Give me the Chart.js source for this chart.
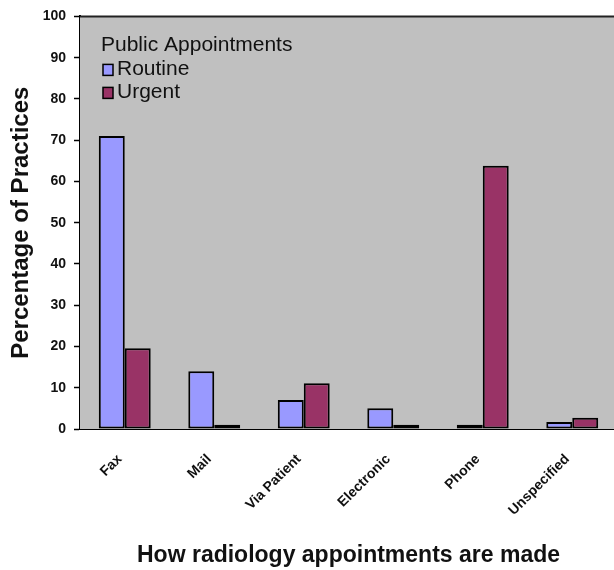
<!DOCTYPE html>
<html>
<head>
<meta charset="utf-8">
<script src="https://cdn.jsdelivr.net/npm/chart.js@4"></script>
<style>
  html, body { margin: 0; padding: 0; background: #fff; overflow: hidden; }
  #wrap { width: 614px; height: 570px; overflow: hidden; position: relative; }
  #c { position: absolute; left: 0; top: 0; }
</style>
</head>
<body>
<div id="wrap"><canvas id="c" width="620" height="570"></canvas></div>
<script>
const categories = ["Fax", "Mail", "Via Patient", "Electronic", "Phone", "Unspecified"];
const routineValues = [71, 14, 7, 5, 1, 1.7];
const urgentValues = [19.6, 1, 11.1, 1, 63.8, 2.7];
const yTicks = [0, 10, 20, 30, 40, 50, 60, 70, 80, 90, 100];
const legendTitle = "Public Appointments";
const seriesNames = ["Routine", "Urgent"];
const xTitle = "How radiology appointments are made";
const yTitle = "Percentage of Practices";

const FONT = "'Liberation Sans', Arial, sans-serif";

const plotDeco = {
  id: 'plotDeco',
  beforeDatasetsDraw(chart) {
    const a = chart.chartArea, ctx = chart.ctx;
    ctx.save();
    ctx.fillStyle = '#C0C0C0';
    ctx.fillRect(a.left, a.top, a.right - a.left, a.bottom - a.top);
    ctx.restore();
  },
  afterDraw(chart) {
    const a = chart.chartArea, ctx = chart.ctx;
    ctx.save();
    ctx.strokeStyle = '#222';
    ctx.lineWidth = 2;
    ctx.beginPath();
    ctx.moveTo(a.left, a.top);
    ctx.lineTo(a.right, a.top);
    ctx.stroke();
    // legend
    const x0 = a.left + 21;
    ctx.font = "21px " + FONT;
    ctx.fillStyle = '#111';
    ctx.textBaseline = 'alphabetic';
    ctx.textAlign = 'left';
    ctx.fillText(legendTitle, x0, a.top + 35);
    chart.data.datasets.forEach((ds, i) => {
      const by = a.top + 48 + i * 23;
      ctx.fillStyle = ds.backgroundColor;
      ctx.fillRect(x0 + 2, by, 10, 11);
      ctx.strokeStyle = '#000';
      ctx.lineWidth = 1.5;
      ctx.strokeRect(x0 + 2, by, 10, 11);
      ctx.fillStyle = '#111';
      ctx.fillText(ds.label, x0 + 16, by + 11);
    });
    ctx.restore();
  }
};

new Chart(document.getElementById('c'), {
  type: 'bar',
  data: {
    labels: categories,
    datasets: [
      { label: seriesNames[0], data: routineValues, backgroundColor: '#9999FF', borderColor: '#000', borderWidth: 2, borderSkipped: false },
      { label: seriesNames[1], data: urgentValues, backgroundColor: '#993366', borderColor: '#000', borderWidth: 2, borderSkipped: false }
    ]
  },
  options: {
    responsive: false,
    animation: false,
    devicePixelRatio: 1,
    layout: { padding: { top: 16, right: 3, left: 0, bottom: 0 } },
    datasets: { bar: { categoryPercentage: 0.58, barPercentage: 1 } },
    plugins: { legend: { display: false }, tooltip: { enabled: false } },
    scales: {
      x: {
        grid: { display: true, drawOnChartArea: false, drawTicks: false },
        border: { display: true, color: '#000', width: 2 },
        ticks: {
          autoSkip: false, minRotation: 45, maxRotation: 45, padding: 22, labelOffset: -5,
          color: '#111', font: { family: FONT, size: 14, weight: 'bold' }
        },
        title: { display: true, text: xTitle, color: '#111', padding: { top: 0, bottom: 1 },
          font: { family: FONT, size: 23, weight: 'bold' } },
        afterFit(s) { s.height = 141; }
      },
      y: {
        min: 0, max: 100,
        afterBuildTicks(s) { s.ticks = yTicks.map(v => ({ value: v })); },
        grid: { display: true, drawOnChartArea: false, drawTicks: true, tickLength: 6, color: '#000', tickWidth: 1.5 },
        border: { display: true, color: '#000', width: 2 },
        ticks: { padding: 8, color: '#111', font: { family: FONT, size: 14, weight: 'bold' } },
        title: { display: true, text: yTitle, color: '#111', padding: { top: 7, bottom: 0 },
          font: { family: FONT, size: 24, weight: 'bold' } },
        afterFit(s) { s.width = 80; }
      }
    }
  },
  plugins: [plotDeco]
});
</script>
</body>
</html>
